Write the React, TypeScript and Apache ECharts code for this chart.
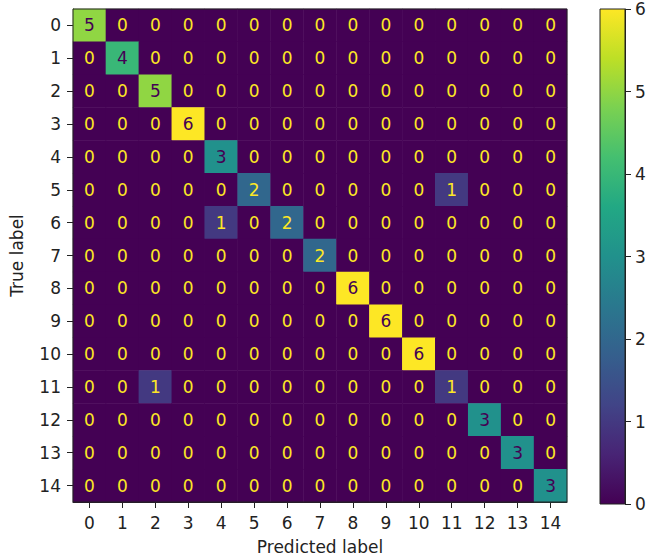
import React, { useEffect, useRef } from "react";
import * as echarts from "echarts";

const labels = ["0","1","2","3","4","5","6","7","8","9","10","11","12","13","14"];
// confusion matrix rows = true label, columns = predicted label
const matrix: number[][] = [
  [5,0,0,0,0,0,0,0,0,0,0,0,0,0,0],
  [0,4,0,0,0,0,0,0,0,0,0,0,0,0,0],
  [0,0,5,0,0,0,0,0,0,0,0,0,0,0,0],
  [0,0,0,6,0,0,0,0,0,0,0,0,0,0,0],
  [0,0,0,0,3,0,0,0,0,0,0,0,0,0,0],
  [0,0,0,0,0,2,0,0,0,0,0,1,0,0,0],
  [0,0,0,0,1,0,2,0,0,0,0,0,0,0,0],
  [0,0,0,0,0,0,0,2,0,0,0,0,0,0,0],
  [0,0,0,0,0,0,0,0,6,0,0,0,0,0,0],
  [0,0,0,0,0,0,0,0,0,6,0,0,0,0,0],
  [0,0,0,0,0,0,0,0,0,0,6,0,0,0,0],
  [0,0,1,0,0,0,0,0,0,0,0,1,0,0,0],
  [0,0,0,0,0,0,0,0,0,0,0,0,3,0,0],
  [0,0,0,0,0,0,0,0,0,0,0,0,0,3,0],
  [0,0,0,0,0,0,0,0,0,0,0,0,0,0,3],
];
const colorbarTicks = [0, 1, 2, 3, 4, 5, 6];
const viridis = ["#440154","#482475","#414487","#355f8d","#2a788e","#21918c","#22a884","#44bf70","#7ad151","#bddf26","#fde725"];

const FONT = "DejaVu Sans";

export default function App() {
  const ref = useRef<HTMLDivElement>(null);
  useEffect(() => {
    if (!ref.current) return;
    const chart = echarts.init(ref.current, undefined, { renderer: "svg" });
    const vmin = 0, vmax = 6;
    const thresh = (vmin + vmax) / 2;
    const data: any[] = [];
    matrix.forEach((row, i) =>
      row.forEach((v, j) => {
        data.push({
          value: [j, i, v],
          label: { color: v < thresh ? "#fde725" : "#440154" },
        });
      })
    );
    const txt = { fontFamily: FONT, fontSize: 17, color: "#222" };
    chart.setOption({
      animation: false,
      backgroundColor: "#fff",
      grid: [
        { left: 73, top: 9, width: 494, height: 494, show: true, borderColor: "#222", borderWidth: 1, backgroundColor: "transparent", z: 10 },
        { left: 600, top: 9, width: 25, height: 495, show: true, borderColor: "#222", borderWidth: 1, backgroundColor: "transparent", z: 10 },
      ],
      visualMap: {
        show: false,
        min: vmin,
        max: vmax,
        seriesIndex: 0,
        dimension: 2,
        inRange: { color: viridis },
      },
      xAxis: [
        {
          type: "category",
          gridIndex: 0,
          data: labels,
          position: "bottom",
          name: "Predicted label",
          nameLocation: "middle",
          nameGap: 36,
          nameTextStyle: txt,
          axisLine: { show: true, lineStyle: { color: "#222" } },
          axisTick: { show: true, alignWithLabel: true, length: 6, lineStyle: { color: "#222" } },
          axisLabel: { ...txt, margin: 12, interval: 0 },
          splitLine: { show: false },
        },
        {
          type: "category",
          gridIndex: 1,
          data: [""],
          show: false,
        },
      ],
      yAxis: [
        {
          type: "category",
          gridIndex: 0,
          data: labels,
          inverse: true,
          name: "True label",
          nameLocation: "middle",
          nameGap: 48,
          nameRotate: 90,
          nameTextStyle: txt,
          axisLine: { show: true, lineStyle: { color: "#222" } },
          axisTick: { show: true, alignWithLabel: true, length: 6, lineStyle: { color: "#222" } },
          axisLabel: { ...txt, margin: 12, interval: 0 },
          splitLine: { show: false },
        },
        {
          type: "value",
          gridIndex: 1,
          position: "right",
          min: 0,
          max: 6,
          interval: 1,
          axisLine: { show: true, lineStyle: { color: "#222" } },
          axisTick: { show: true, length: 6, lineStyle: { color: "#222" } },
          axisLabel: { ...txt, margin: 10, formatter: (v: number) => (colorbarTicks.includes(v) ? String(v) : "") },
          splitLine: { show: false },
        },
      ],
      series: [
        {
          type: "heatmap",
          xAxisIndex: 0,
          yAxisIndex: 0,
          data,
          label: { show: true, fontFamily: FONT, fontSize: 17, formatter: (p: any) => String(p.value[2]) },
          itemStyle: { borderWidth: 0 },
          emphasis: { disabled: true },
        },
        {
          type: "bar",
          xAxisIndex: 1,
          yAxisIndex: 1,
          data: [vmax],
          barWidth: "100%",
          itemStyle: {
            color: new echarts.graphic.LinearGradient(
              0, 1, 0, 0,
              viridis.map((c, k) => ({ offset: k / (viridis.length - 1), color: c }))
            ),
          },
          emphasis: { disabled: true },
          silent: true,
        },
      ],
    });
    return () => chart.dispose();
  }, []);
  return <div ref={ref} style={{ width: 650, height: 560, position: "absolute", left: 0, top: 0 }} />;
}
